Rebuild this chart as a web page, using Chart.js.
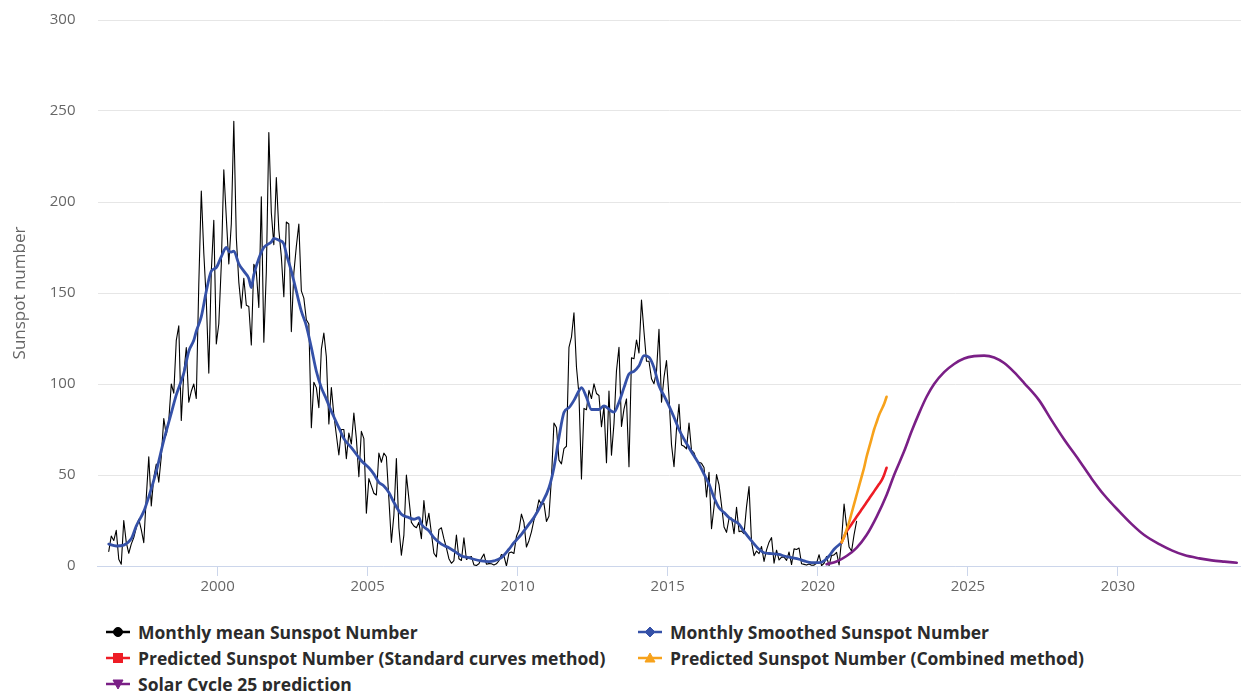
<!DOCTYPE html>
<html>
<head>
<meta charset="utf-8">
<title>Sunspot number</title>
<script src="https://cdn.jsdelivr.net/npm/chart.js@4.4.1/dist/chart.umd.min.js"></script>
<style>
  html, body { margin: 0; padding: 0; background: #ffffff; }
  #wrap { position: relative; width: 1241px; height: 691px; overflow: hidden; background: #ffffff; }
  #chart { position: absolute; left: 0; top: -11px; }
  #legend {
    position: absolute; left: 106px; top: 619px;
    display: grid; grid-template-columns: 532px auto; grid-auto-rows: 26px;
    font-family: "Open Sans", sans-serif; font-weight: 700; font-size: 17.5px; color: #2b2b2b;
  }
  .item { display: flex; align-items: center; white-space: nowrap; }
  .item svg { margin-right: 8px; flex: none; }
</style>
</head>
<body>
<div id="wrap">
  <canvas id="chart" width="1241" height="617"></canvas>
  <div id="legend"></div>
</div>
<script>
// Monthly mean total sunspot number, first value = May 1996 (month index 4 counted from Jan 1996)
const meanFirstMonth = 4;
const monthlyMean = [
  8, 16.5, 14, 19.6, 3.7, 1, 25, 13,
  7, 12, 15.6, 21, 25.7, 20, 12.8, 37.6, 60, 33, 48.6, 56,
  46, 60, 81, 72, 80, 100, 95, 124, 132, 80, 106, 120,
  90, 96, 100, 92, 155, 206, 172, 146, 106, 162, 190, 122,
  133.1, 165.7, 217.7, 191.5, 165.9, 188.0, 244.3, 180.5, 156.0, 141.6, 158.1, 143.3,
  142.6, 121.5, 165.8, 161.7, 142.1, 202.9, 123.0, 161.5, 238.2, 194.1, 176.6, 213.4,
  184.6, 170.0, 147.9, 189.0, 187.9, 128.8, 161.0, 175.6, 187.9, 151.2, 147.2, 135.3,
  133, 76, 101, 98, 87, 119, 128, 115, 78, 98, 83, 72,
  61, 75, 75, 59, 73, 67, 84, 70, 49, 74, 70, 29,
  48, 44, 40, 39, 62, 57, 62, 60, 37, 13, 28, 59,
  21, 6, 17, 50, 37, 24, 22, 21, 24, 15, 36, 22,
  29, 18, 7, 5, 20, 21, 15, 10, 4, 1.5, 3, 17,
  4, 3, 15.5, 3.6, 4.6, 5.2, 0.6, 0.3, 1.2, 4.2, 6.6, 1,
  1.3, 1.2, 0.6, 1.2, 2.9, 6.3, 5.5, 0, 7.1, 7.7, 6.9, 16.3,
  19.6, 28.5, 24.0, 10.4, 13.9, 18.8, 25.2, 29.6, 36.4, 33.6, 34.4, 24.5,
  27.3, 48.3, 78.6, 76.1, 58.2, 56.1, 64.5, 65.8, 120.1, 125.7, 139.1, 109.3,
  94.4, 47.8, 86.6, 85.9, 96.5, 92.0, 100.1, 94.8, 93.7, 76.5, 87.6, 56.8,
  96.1, 60.9, 78.3, 107.3, 120.2, 76.7, 86.2, 91.8, 54.5, 114.4, 113.9, 124.2,
  117.0, 146.1, 128.7, 112.5, 112.5, 102.9, 100.2, 106.9, 130.0, 90.0, 103.6, 112.9,
  93.0, 66.7, 54.5, 75.3, 88.8, 66.5, 65.8, 64.4, 78.6, 63.6, 62.2, 58.0,
  57.0, 56.4, 54.1, 37.9, 51.5, 20.5, 32.4, 50.2, 44.6, 33.4, 21.4, 18.5,
  26.1, 26.4, 17.7, 32.3, 18.9, 19.2, 17.8, 32.6, 43.6, 13.2, 5.7, 8.2,
  6.8, 10.7, 2.5, 8.9, 13.1, 15.6, 1.6, 8.7, 3.3, 4.9, 4.9, 3.1,
  7.7, 0.8, 9.4, 9.1, 9.9, 1.2, 0.9, 0.5, 1.1, 0.4, 0.5, 1.5,
  6.2, 0.2, 1.5, 5.2, 0.2, 5.8, 6.1, 7.5, 0.6, 14.4, 34.0, 21.8,
  10.4, 8.2, 17.2, 24.5
];

// 13-month smoothed sunspot number (month index counted from Jan 1996)
const smoothedMonths = [
  4, 7, 13, 15, 18, 20, 23, 26, 29, 31, 34, 36, 38, 39, 41, 43, 45, 47, 49, 51, 52, 53, 54,
  56, 58, 60, 61, 62, 64, 66, 69, 70, 72, 74, 75, 77, 79, 81, 83, 85, 87, 89, 91, 93, 96,
  98, 101, 104, 105, 108, 110, 112, 114, 116, 118, 121, 124, 126, 128, 129, 132, 134, 137,
  140, 142, 145, 148, 150, 153, 156, 158, 161, 164, 166, 169, 172, 174, 177, 180, 182, 184,
  186, 188, 190, 192, 193, 195, 197, 200, 202, 205, 206, 208, 210, 212, 214, 216, 218, 220,
  222, 224, 226, 228, 230, 232, 234, 236, 238, 240, 242, 244, 246, 248, 250, 252, 254, 256,
  258, 261, 264, 266, 269, 272, 274, 277, 280, 282, 285, 288, 290, 292, 294, 297
];
const smoothedValues = [
  12, 11, 15, 22, 30, 38, 52, 69, 84, 94, 106, 118, 124, 129, 137, 151, 162, 164, 170, 175, 173, 172.5, 173,
  166, 162, 158, 153, 160, 169, 175, 178, 180, 179, 177, 171.5, 162, 151, 140, 132, 120, 107, 98, 91.7, 85, 76,
  70, 65, 59.6, 57.8, 54, 50.5, 46, 44, 40.4, 35, 28.4, 26.6, 25.7, 26.6, 23, 19.3, 15.6, 12,
  10, 8.3, 5.5, 4.6, 3.7, 2.8, 2.4, 2.8, 4.6, 9.2, 12.8, 17.4, 23, 26.6, 34, 43, 54, 70.6,
  84.4, 87, 91, 96.3, 98, 92.7, 86, 86, 88, 85, 84.5, 90, 98, 105.5, 107, 110, 115.6, 114.7,
  109, 99, 93.6, 88, 81.7, 75, 69.7, 65, 60.5, 56, 50.5, 45, 37.6, 32, 29.4, 26.6, 24.8, 23,
  19, 13.8, 9.2, 7.3, 6.8, 6.4, 5.5, 4.6, 3.7, 2.8, 1.8, 1.8, 2.8, 5.5, 9.2, 12.8
];

// Forecasts, monthly from Oct 2020 (month index 297) to Apr 2022
const forecastFirstMonth = 297;
const standardCurves = [13, 16, 19, 21, 23, 25, 27, 29, 31, 33, 35, 37, 39, 41, 43, 45, 47, 50, 54];
const combinedMethod = [13, 16, 20, 24, 29, 34, 39, 44, 49, 54, 60, 65, 70, 75, 79, 83, 86, 89, 93];

// Solar Cycle 25 panel prediction
const cycle25Months = [
  291, 295, 299, 303, 307, 311, 315, 318, 322, 325, 328, 331, 334, 338, 342, 346, 350, 354, 358,
  362, 366, 370, 376, 381, 386, 392, 397, 402, 408, 413, 418, 424, 429, 434, 440, 445, 450, 455
];
const cycle25Values = [
  1, 2.5, 5.5, 10, 17, 27, 39, 50, 63, 74, 84, 93, 100, 106.5, 111, 114, 115.3, 115.6, 114.6,
  111.5, 106.5, 100.5, 91, 80, 69.5, 58, 48, 39, 30, 23, 17, 12, 8.6, 6, 4.2, 3.1, 2.4, 1.8
];

const seriesNames = [
  'Monthly mean Sunspot Number',
  'Monthly Smoothed Sunspot Number',
  'Predicted Sunspot Number (Standard curves method)',
  'Predicted Sunspot Number (Combined method)',
  'Solar Cycle 25 prediction'
];
const yTicks = [0, 50, 100, 150, 200, 250, 300];
const xTickStep = 5;

// month index (from Jan 1996) -> decimal year at mid-month
const monthToYear = m => 1996 + (m + 0.5) / 12;
const series = (months, values) => values.map((v, i) => ({ x: monthToYear(months[i]), y: v }));
const run = (first, values) => values.map((v, i) => ({ x: monthToYear(first + i), y: v }));

const FONT = '"Open Sans", sans-serif';
const colors = ['#000000', '#3551a8', '#ee1c25', '#f7a21b', '#7a1f86'];
const markers = ['circle', 'diamond', 'square', 'triangle', 'triangleDown'];

const chart = new Chart(document.getElementById('chart'), {
  type: 'line',
  data: {
    datasets: [
      { label: seriesNames[0], data: run(meanFirstMonth, monthlyMean), borderColor: colors[0], borderWidth: 1.1, tension: 0, order: 5 },
      { label: seriesNames[1], data: series(smoothedMonths, smoothedValues), borderColor: colors[1], borderWidth: 2.8, cubicInterpolationMode: 'monotone', order: 4 },
      { label: seriesNames[2], data: run(forecastFirstMonth, standardCurves), borderColor: colors[2], borderWidth: 2.6, cubicInterpolationMode: 'monotone', order: 3 },
      { label: seriesNames[3], data: run(forecastFirstMonth, combinedMethod), borderColor: colors[3], borderWidth: 2.6, cubicInterpolationMode: 'monotone', order: 2 },
      { label: seriesNames[4], data: series(cycle25Months, cycle25Values), borderColor: colors[4], borderWidth: 2.6, cubicInterpolationMode: 'monotone', order: 1 }
    ]
  },
  options: {
    responsive: false,
    animation: false,
    parsing: false,
    elements: { point: { radius: 0, hoverRadius: 0 }, line: { fill: false, borderCapStyle: 'round', borderJoinStyle: 'round' } },
    layout: { padding: { top: 9, right: 0, bottom: 0, left: 0 } },
    plugins: { legend: { display: false }, tooltip: { enabled: false } },
    scales: {
      x: {
        type: 'linear', min: 1996, max: 2034.1,
        border: { display: true, color: '#ccd6eb', width: 1 },
        grid: { drawOnChartArea: false, drawTicks: true, tickLength: 10, color: '#ccd6eb' },
        ticks: { stepSize: xTickStep, includeBounds: false, color: '#666666', font: { family: FONT, size: 15 }, padding: 2, maxRotation: 0, callback: v => String(v) },
        afterFit: s => { s.height = 40; }
      },
      y: {
        min: yTicks[0], max: yTicks[yTicks.length - 1],
        afterBuildTicks: s => { s.ticks = yTicks.map(v => ({ value: v })); },
        border: { display: false },
        grid: { color: '#e6e6e6', drawTicks: false },
        ticks: { color: '#666666', font: { family: FONT, size: 15 }, padding: 22, callback: v => String(v) },
        title: { display: true, text: 'Sunspot number', color: '#666666', font: { family: FONT, size: 17 }, padding: { top: 10, bottom: 0 } },
        afterFit: s => { s.width = 97.5; }
      }
    }
  }
});

// Legend built from the chart's datasets
function markerSvg(kind, color) {
  const c = 'stroke="' + color + '" fill="' + color + '"';
  let shape = '';
  if (kind === 'circle') shape = '<circle cx="12" cy="7" r="4.5" ' + c + '/>';
  if (kind === 'diamond') shape = '<polygon points="12,2 17,7 12,12 7,7" ' + c + '/>';
  if (kind === 'square') shape = '<rect x="7.5" y="2.5" width="9" height="9" ' + c + '/>';
  if (kind === 'triangle') shape = '<polygon points="12,2 17,11 7,11" ' + c + '/>';
  if (kind === 'triangleDown') shape = '<polygon points="7,3 17,3 12,12" ' + c + '/>';
  return '<svg width="24" height="14" viewBox="0 0 24 14"><line x1="0" y1="7" x2="24" y2="7" stroke="' + color + '" stroke-width="2.5"/>' + shape + '</svg>';
}
const legendEl = document.getElementById('legend');
chart.data.datasets.forEach((ds, i) => {
  const item = document.createElement('div');
  item.className = 'item';
  item.innerHTML = markerSvg(markers[i], colors[i]) + '<span></span>';
  item.querySelector('span').textContent = ds.label;
  legendEl.appendChild(item);
});
</script>
</body>
</html>
